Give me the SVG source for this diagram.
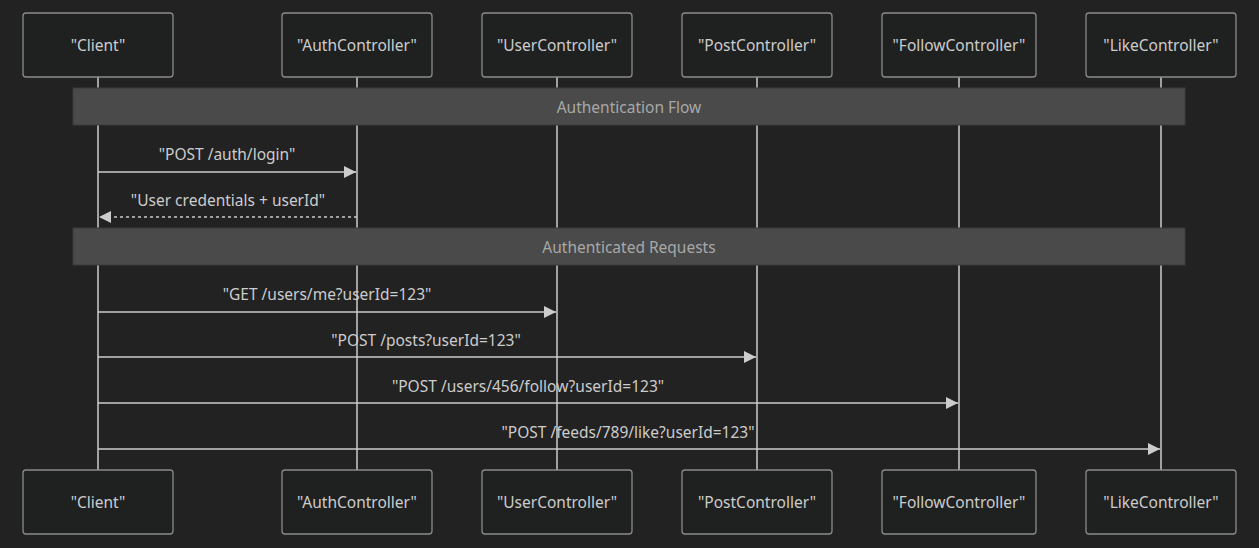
<svg xmlns="http://www.w3.org/2000/svg" width="1259" height="548" viewBox="0 0 1259 548">
<style>
.bg{fill:#222222}
.actor rect{fill:#1f2020;stroke:#8a8a8a;stroke-width:1.3}
.actor text{fill:#cccccc;font-family:"Noto Sans","Open Sans",sans-serif;font-size:15.5px;text-anchor:middle;dominant-baseline:central}
.life{stroke:#cccccc;stroke-width:1.5}
.note rect{fill:#494a49;stroke:#3a3a3a;stroke-width:1}
.note text{fill:#a8a8a8;font-family:"Noto Sans","Open Sans",sans-serif;font-size:15.5px;text-anchor:middle;dominant-baseline:central}
.msg{stroke:#cccccc;stroke-width:1.5;fill:none}
.dash{stroke-dasharray:3,3}
.lbl{fill:#cccccc;font-family:"Noto Sans","Open Sans",sans-serif;font-size:15.5px;text-anchor:middle}
</style>
<defs>
<marker id="ah" viewBox="0 0 10 10" refX="10" refY="5" markerWidth="12" markerHeight="12" markerUnits="userSpaceOnUse" orient="auto"><path d="M0,0 L10,5 L0,10 z" fill="#cccccc"/></marker>
</defs>
<rect class="bg" x="0" y="0" width="1259" height="548"/>
<g id="lifelines">
<line class="life" x1="98" y1="77" x2="98" y2="470"/>
<line class="life" x1="357" y1="77" x2="357" y2="470"/>
<line class="life" x1="557" y1="77" x2="557" y2="470"/>
<line class="life" x1="757" y1="77" x2="757" y2="470"/>
<line class="life" x1="959" y1="77" x2="959" y2="470"/>
<line class="life" x1="1161" y1="77" x2="1161" y2="470"/>
</g>
<g id="actor-client-top" class="actor"><rect x="23" y="13" width="150" height="64" rx="3"/><text x="98" y="45">"Client"</text></g>
<g id="actor-auth-top" class="actor"><rect x="282" y="13" width="150" height="64" rx="3"/><text x="357" y="45">"AuthController"</text></g>
<g id="actor-user-top" class="actor"><rect x="482" y="13" width="150" height="64" rx="3"/><text x="557" y="45">"UserController"</text></g>
<g id="actor-post-top" class="actor"><rect x="682" y="13" width="150" height="64" rx="3"/><text x="757" y="45">"PostController"</text></g>
<g id="actor-follow-top" class="actor"><rect x="882" y="13" width="154" height="64" rx="3"/><text x="959" y="45">"FollowController"</text></g>
<g id="actor-like-top" class="actor"><rect x="1086" y="13" width="150" height="64" rx="3"/><text x="1161" y="45">"LikeController"</text></g>
<g id="note-auth-flow" class="note"><rect x="73" y="88" width="1112" height="37"/><text x="629" y="107">Authentication Flow</text></g>
<g id="note-auth-req" class="note"><rect x="73" y="228" width="1112" height="37"/><text x="629" y="247">Authenticated Requests</text></g>
<g id="connectors">
<line class="msg" x1="98" y1="172" x2="356" y2="172" marker-end="url(#ah)"/>
<text class="lbl" x="227" y="160">"POST /auth/login"</text>
<line class="msg dash" x1="357" y1="217" x2="99" y2="217" marker-end="url(#ah)"/>
<text class="lbl" x="228" y="206">"User credentials + userId"</text>
<line class="msg" x1="98" y1="312" x2="556" y2="312" marker-end="url(#ah)"/>
<text class="lbl" x="327" y="300">"GET /users/me?userId=123"</text>
<line class="msg" x1="98" y1="357" x2="756" y2="357" marker-end="url(#ah)"/>
<text class="lbl" x="426" y="346">"POST /posts?userId=123"</text>
<line class="msg" x1="98" y1="403" x2="958" y2="403" marker-end="url(#ah)"/>
<text class="lbl" x="528" y="392">"POST /users/456/follow?userId=123"</text>
<line class="msg" x1="98" y1="449" x2="1160" y2="449" marker-end="url(#ah)"/>
<text class="lbl" x="628" y="438">"POST /feeds/789/like?userId=123"</text>
</g>
<g id="actor-client-bottom" class="actor"><rect x="23" y="470" width="150" height="64" rx="3"/><text x="98" y="502">"Client"</text></g>
<g id="actor-auth-bottom" class="actor"><rect x="282" y="470" width="150" height="64" rx="3"/><text x="357" y="502">"AuthController"</text></g>
<g id="actor-user-bottom" class="actor"><rect x="482" y="470" width="150" height="64" rx="3"/><text x="557" y="502">"UserController"</text></g>
<g id="actor-post-bottom" class="actor"><rect x="682" y="470" width="150" height="64" rx="3"/><text x="757" y="502">"PostController"</text></g>
<g id="actor-follow-bottom" class="actor"><rect x="882" y="470" width="154" height="64" rx="3"/><text x="959" y="502">"FollowController"</text></g>
<g id="actor-like-bottom" class="actor"><rect x="1086" y="470" width="150" height="64" rx="3"/><text x="1161" y="502">"LikeController"</text></g>
</svg>
